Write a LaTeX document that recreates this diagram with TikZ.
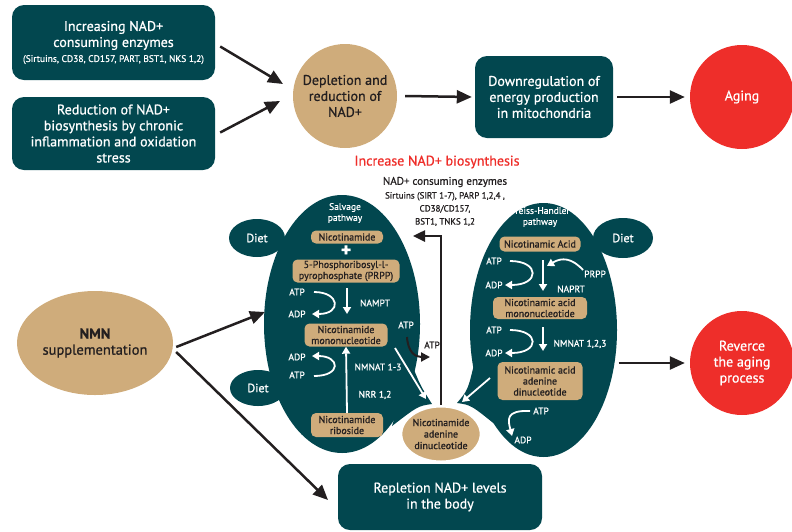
\documentclass[tikz,border=0pt]{standalone}
\usepackage{fontspec}
\setmainfont{PT Sans}[FakeBold=0.8]
\usetikzlibrary{arrows.meta,shapes.geometric}
\definecolor{teal1}{HTML}{02474F}
\definecolor{tan1}{HTML}{CFAC7B}
\definecolor{red1}{HTML}{EE2E2A}
\definecolor{ink}{HTML}{231F20}
\begin{document}
\begin{tikzpicture}[x=1pt,y=-1pt,
  box/.style={fill=teal1, rounded corners=12pt, text=white, align=center, inner sep=0pt},
  bigtxt/.style={font=\fontsize{14}{16}\selectfont},
  tancirc/.style={circle, fill=tan1, text=ink, align=center, inner sep=0pt},
  redcirc/.style={circle, fill=red1, text=white, align=center, inner sep=0pt},
  tanbox/.style={fill=tan1, rounded corners=5pt, text=ink, align=center, inner sep=0pt, font=\fontsize{10}{11}\selectfont},
  wlab/.style={text=white, inner sep=0pt, font=\fontsize{9.5}{11}\selectfont},
  blk/.style={draw=ink, line width=2.5pt, -{Triangle[length=15pt,width=13pt]}},
  warr/.style={draw=white, line width=1.8pt, -{Triangle[length=7pt,width=8pt]}},
  pathell/.style={ellipse, fill=teal1, inner sep=0pt},
  diet/.style={ellipse, fill=teal1, text=white, inner sep=0pt, font=\fontsize{12}{14}\selectfont}
]
\useasboundingbox (0,0) rectangle (792,531);

% top row
\node[box, bigtxt, minimum width=203pt, minimum height=75pt] (b1) at (113.5,42.5)
  {Increasing NAD+\\consuming enzymes\\[-1pt]{\fontsize{9.5}{11}\selectfont (Sirtuins, CD38, CD157, PART, BST1, NKS 1,2)}};
\node[box, bigtxt, minimum width=203pt, minimum height=73pt] (b2) at (113.5,133.5)
  {Reduction of NAD+\\biosynthesis by chronic\\inflammation and oxidation\\stress};
\node[tancirc, bigtxt, minimum size=104pt] (dep) at (345,96) {Depletion and\\reduction of\\NAD+};
\node[box, bigtxt, minimum width=138pt, minimum height=82pt] (b3) at (544,97)
  {Downregulation of\\energy production\\in mitochondria};
\node[redcirc, bigtxt, minimum size=104pt] (aging) at (742,97) {Aging};

\draw[blk] ([shift={(5,4)}]b1.east) -- ([shift={(-62,-12)}]dep.center);
\draw[blk] ([shift={(5,-1)}]b2.east) -- ([shift={(-65,5)}]dep.center);
\draw[blk] ([xshift=8]dep.east) -- ([xshift=-3]b3.west);
\draw[blk] ([xshift=4]b3.east) -- ([xshift=-5]aging.west);

% headings
\node[text=red1, inner sep=0pt, font=\fontsize{14}{16}\selectfont] (inc) at (437,162) {Increase NAD+ biosynthesis};
\node[text=ink, inner sep=0pt, font=\fontsize{11}{13}\selectfont] (cons) at (445,182) {NAD+ consuming enzymes};
\node[text=ink, inner sep=0pt, align=center, font=\fontsize{9}{13}\selectfont] (sirt) at (445,209)
  {Sirtuins (SIRT 1-7), PARP 1,2,4 ,\\CD38/CD157,\\BST1, TNKS 1,2};

% pathway shapes
\node[pathell, minimum width=156pt, minimum height=258pt] (salv) at (342,324) {};
\node[pathell, minimum width=147pt, minimum height=254pt] (preiss) at (543.5,330) {};
\fill[teal1] (411,362) .. controls (420,385) .. (432,404) .. controls (418,406) .. (392,426) -- cycle;
\fill[teal1] (475,360) .. controls (468,390) .. (457,403) .. controls (471,405) .. (497,426) -- cycle;
\node[diet, minimum width=56pt, minimum height=38pt] (diet1) at (257,238) {Diet};
\node[diet, minimum width=56pt, minimum height=36pt] (diet2) at (258,388) {Diet};
\node[diet, minimum width=60pt, minimum height=40pt] (diet3) at (623,238) {Diet};

% salvage pathway content
\node[wlab, align=center] (salvt) at (345,213) {Salvage\\pathway};
\node[tanbox, minimum width=72pt, minimum height=13pt] (nam) at (347,237) {Nicotinamide};
\node[text=white, inner sep=0pt, font=\fontsize{20}{20}\selectfont\bfseries] (plus) at (346,251) {+};
\node[tanbox, minimum width=107pt, minimum height=23pt] (prpp) at (346,271) {5-Phosphoribosyl-l-\\pyrophosphate (PRPP)};
\node[wlab] (atp1) at (297,292) {ATP};
\node[wlab] (adp1) at (297,314) {ADP};
\coordinate (a1s) at (314,292);
\coordinate (a1e) at (312,314);
\draw[warr] (a1s) .. controls (340,292) and (342,314) .. (a1e);
\coordinate (d1s) at (347,288);
\coordinate (d1e) at (347,314);
\draw[warr] (d1s) -- (d1e);
\node[wlab] (nampt) at (375,303) {NAMPT};
\node[tanbox, minimum width=83pt, minimum height=23pt] (nmn) at (346,335) {Nicotinamide\\mononucleotide};
\node[wlab] (adp2) at (297,357) {ADP};
\node[wlab] (atp2) at (297,375) {ATP};
\coordinate (a2s) at (314,376);
\coordinate (a2e) at (312,356);
\draw[warr] (a2s) .. controls (342,376) and (340,356) .. (a2e);
\node[tanbox, minimum width=72pt, minimum height=24pt] (nr) at (347,425) {Nicotinamide\\riboside};
\draw[warr] (nr.north) -- (nmn.south);
\node[wlab] (nmnat) at (378,367) {NMNAT 1-3};
\node[wlab] (nrr) at (375,395) {NRR 1,2};
\node[wlab] (atp3) at (406,325) {ATP};

% Preiss-Handler content
\node[wlab, align=center] (pht) at (540,217) {Preiss-Handler\\pathway};
\node[tanbox, minimum width=81pt, minimum height=15pt] (na) at (540,244) {Nicotinamic Acid};
\node[wlab] (atp4) at (494,261) {ATP};
\node[wlab] (adp4) at (494,285) {ADP};
\coordinate (a4s) at (510,261);
\coordinate (a4e) at (505,285);
\draw[warr] (a4s) .. controls (540,261) and (540,285) .. (a4e);
\coordinate (d4s) at (543,260);
\coordinate (d4e) at (543,291);
\draw[warr] (d4s) -- (d4e);
\node[wlab] (prppl) at (595,274) {PRPP};
\coordinate (p4e) at (547,266);
\draw[warr] ([shift={(-12,-4)}]prppl.center) .. controls (572,258) and (562,257) .. (p4e);
\node[wlab] (naprt) at (571,289) {NAPRT};
\node[tanbox, minimum width=94pt, minimum height=22pt] (namn) at (540,308) {Nicotinamic acid\\mononucleotide};
\node[wlab] (atp5) at (494,330) {ATP};
\node[wlab] (adp5) at (494,353) {ADP};
\coordinate (a5s) at (510,330);
\coordinate (a5e) at (505,353);
\draw[warr] (a5s) .. controls (540,330) and (540,353) .. (a5e);
\coordinate (d5s) at (543,327);
\coordinate (d5e) at (543,351);
\draw[warr] (d5s) -- (d5e);
\node[wlab] (nmnat2) at (580,344) {NMNAT 1,2,3};
\node[tanbox, minimum width=85pt, minimum height=38pt] (naad) at (540,381) {Nicotinamic acid\\adenine\\dinucleotide};
\node[wlab] (atp6) at (541,411) {ATP};
\node[wlab] (adp6) at (523,440) {ADP};
\coordinate (a6e) at (512,436);
\draw[warr] ([xshift=-11]atp6.center) .. controls (505,410) and (508,420) .. (a6e);

% NAD node
\node[ellipse, fill=tan1, draw=white, line width=3pt, text=ink, align=center, inner sep=0pt,
  minimum width=80pt, minimum height=56pt, font=\fontsize{10}{11.5}\selectfont] (nad) at (441,434)
  {Nicotinamide\\adenine\\dinucleotide};
\coordinate (lt) at (426,399);
\coordinate (rt) at (462,402);
\draw[warr] ([shift={(49,13)}]nmn.center) -- (lt);
\draw[warr] ([shift={(-50,-3)}]naad.center) -- (rt);

% black ATP curve
\node[text=ink, inner sep=0pt, font=\fontsize{9.5}{11}\selectfont] (atpb) at (432,345) {ATP};
\coordinate (atpe) at (430,357);
\draw[draw=ink, line width=2pt, -{Triangle[length=9pt,width=9pt]}] (407,337) .. controls (408,352) and (415,357) .. (atpe);

% consuming arrow
\coordinate (cons1) at (441,236);
\coordinate (cons2) at (413,236);
\draw[draw=ink, line width=2.5pt, -{Triangle[length=12pt,width=11pt]}] (nad.north) -- (cons1) -- (cons2);

% NMN supplementation
\node[ellipse, fill=tan1, text=ink, align=center, inner sep=0pt, minimum width=156pt, minimum height=104pt,
  font=\fontsize{14.5}{16}\selectfont] (nmns) at (95,343) {\textbf{NMN}\\supplementation};
\node[box, bigtxt, minimum width=204pt, minimum height=66pt] (rep) at (440,497) {Repletion NAD+ levels\\in the body};
\node[redcirc, bigtxt, minimum size=104pt] (rev) at (742,363) {Reverce\\the aging\\process};

\draw[blk] ([shift={(3,4)}]nmns.east) -- ([shift={(-77,-12)}]salv.center);
\draw[blk] ([shift={(3,9)}]nmns.east) -- ([shift={(-112,3)}]rep.center);
\draw[blk] ([shift={(75,33)}]preiss.center) -- ([xshift=-5]rev.west);
\end{tikzpicture}
\end{document}
